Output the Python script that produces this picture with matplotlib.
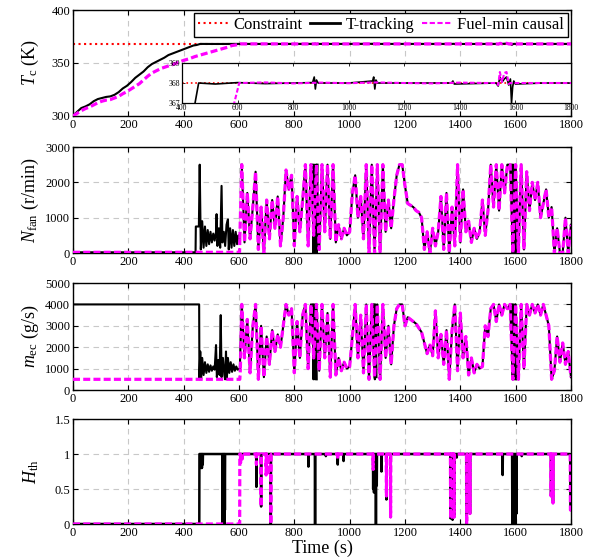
import numpy as np
import matplotlib
matplotlib.use("Agg")
import matplotlib.pyplot as plt
from matplotlib.lines import Line2D
from matplotlib.ticker import FuncFormatter

plt.rcParams['font.family'] = ['Liberation Serif', 'DejaVu Serif']
plt.rcParams['mathtext.fontset'] = 'custom'
plt.rcParams['mathtext.rm'] = 'Liberation Serif'
plt.rcParams['mathtext.it'] = 'Liberation Serif:italic'

# ---------------- data ----------------
constraint_T = 368

# Tc, T-tracking (black)
tc_blk_t = [0, 15, 30, 45, 60, 75, 90, 105, 120, 135, 150, 165, 180, 195, 210, 225, 240, 255, 270, 285,
            300, 315, 330, 345, 360, 375, 390, 405, 420, 435, 447, 460,
            520, 600, 700, 800, 870, 876, 880, 884, 890, 1000, 1086, 1090, 1094, 1098, 1104, 1200, 1370,
            1375, 1380, 1530, 1538, 1544, 1552, 1560, 1568, 1576, 1582, 1586, 1590, 1594, 1600, 1700, 1800]
tc_blk_v = [300, 304, 307.5, 309, 311, 314, 316, 317, 318, 318.5, 320, 322.5, 326, 328.5, 332, 336, 339, 342, 346, 349,
            351, 353, 355, 357.5, 359, 360.5, 362, 363.5, 365, 366.5, 367, 368,
            367.95, 368.02, 367.97, 368.0, 368.02, 368.3, 367.7, 368.15, 368.0, 368.0, 368.1, 368.3, 367.7, 368.15,
            368.0, 368.0, 368.0,
            368.1, 367.95, 368.0, 367.85, 368.3, 368.05, 368.2, 368.3, 367.9, 368.2, 367.0, 367.8, 368.1, 367.95,
            368.0, 368.0]

# Tc, fuel-min causal (magenta)
tc_mag_t = [0, 15, 30, 45, 60, 75, 90, 105, 120, 135, 150, 165, 180, 195, 210, 225, 240, 255, 270, 285,
            300, 320, 340, 360, 380, 400, 420, 440, 460, 480, 500, 520, 540, 560, 575, 588, 606,
            700, 800, 900, 1000, 1100, 1200, 1300, 1400, 1500, 1530, 1538, 1544, 1552, 1560, 1568, 1576,
            1582, 1590, 1700, 1800]
tc_mag_v = [300, 302.5, 305, 307, 308.5, 310.5, 312.5, 314, 315, 315.5, 317, 318.5, 321, 323, 325.5, 328, 330.5, 334, 337.5, 340.5,
            342.5, 345, 346.8, 348.5, 350.5, 352.5, 354, 356, 357.5, 359, 360.5, 362, 363.5, 365, 366.5, 367, 368,
            368.03, 367.98, 368.02, 367.99, 368.03, 368.0, 367.98, 368.02, 368.0, 368.0, 367.9, 368.55, 368.05,
            368.5, 368.55, 367.95, 368.0, 368.0, 368.0, 368.0]

# N_fan
nfan_blk_early_t = [0, 443, 444, 455, 458, 462, 467, 472, 477, 482, 487, 492, 497, 502, 507, 512, 517, 519, 522,
                    527, 532, 537, 540, 545, 550, 555, 560, 563, 568, 573, 578, 583, 588, 593, 598, 603]
nfan_blk_early_v = [20, 20, 750, 750, 2500, 100, 900, 150, 750, 200, 650, 250, 600, 300, 550, 350, 600, 1100, 200,
                    700, 150, 1900, 300, 600, 200, 800, 950, 100, 700, 150, 650, 200, 600, 250, 500, 400]
nfan_mag_early_t = [0, 602, 603]
nfan_mag_early_v = [20, 20, 400]
nfan_late = [2500, 300, 1700, 400, 1300, 2300, 100, 1300, 0, 1500, 400, 1500, 700, 1600, 200, 1000, 2350, 1800,
             2200, 200, 1600, 600, 1500, 2500, 200, 2500, 500, 2500, 100, 2500, 600, 2500, 400, 2500, 300, 800,
             400, 700, 500, 600, 1700, 2200, 1000, 1600, 400, 2500, 0, 2500, 0, 2500, 0, 2500, 600, 1500, 700,
             1500, 2200, 2500, 2500, 1900, 1400, 1350, 1300, 1200, 1150, 1000, 100, 600, 0, 700, 200, 600, 1600,
             100, 1700, 0, 1300, 200, 2500, 300, 1800, 600, 900, 300, 700, 400, 600, 1500, 500, 1200, 2500, 1300,
             2500, 1200, 2500, 1700, 2500, 2500, 0, 2500, 0, 2500, 100, 2300, 1200, 2000, 1500, 2000, 1000, 1400,
             1800, 1000, 1300, 0, 700, 0, 0, 1000, 0, 800]
# black-only bands in N_fan (two separate bursts)
nfan_blkx1_t = [866, 869, 872, 875, 878, 881, 884]
nfan_blkx1_v = [2500, 0, 2500, 0, 2500, 0, 2500]
nfan_blkx2_t = [1586, 1589, 1592, 1595, 1598, 1601]
nfan_blkx2_v = [2500, 0, 2500, 0, 2500, 0]

# m_ec
mec_blk_early_t = [0, 456, 457, 460, 463, 467, 472, 477, 482, 487, 492, 497, 502, 507, 512, 517, 520, 525, 530, 534,
                   537, 542, 547, 550, 553, 556, 560, 565, 570, 575, 580, 585, 590, 595, 603]
mec_blk_early_v = [4000, 4000, 500, 1800, 500, 1500, 700, 1300, 800, 1200, 850, 1150, 900, 1100, 950, 2100, 600, 1400,
                   700, 3500, 600, 1500, 700, 500, 1800, 500, 1500, 800, 1300, 850, 1200, 900, 1100, 950, 1000]
mec_mag_early_t = [0, 603, 605]
mec_mag_early_v = [500, 500, 1000]
mec_late = [4000, 1500, 3300, 800, 3000, 4000, 500, 3000, 600, 2500, 1200, 2800, 1800, 2600, 2000, 3000, 4000, 3500,
            3800, 800, 3200, 1500, 3500, 4000, 1000, 4000, 1500, 4000, 900, 4000, 1500, 3600, 600, 4000, 700, 1500,
            900, 1300, 1000, 1100, 2500, 4000, 1500, 3500, 800, 4000, 500, 4000, 600, 4000, 500, 4000, 1500, 3000,
            1200, 3000, 3800, 4000, 4000, 3000, 3400, 3300, 3200, 3100, 2900, 2700, 2200, 1700, 2100, 1600, 3700,
            1500, 2600, 1200, 2800, 500, 2800, 4000, 900, 3600, 1500, 2500, 700, 1500, 800, 1200, 1000, 1100, 3000,
            2500, 3800, 4000, 3200, 4000, 3500, 4000, 3800, 4000, 500, 4000, 500, 4000, 1000, 4000, 3500, 4000,
            3600, 4000, 3500, 4000, 3500, 3000, 500, 900, 2500, 1300, 2200, 1200, 1800, 600]
mec_blkx1_t = [866, 869, 872, 875, 878, 881]
mec_blkx1_v = [4000, 500, 4000, 500, 4000, 500]
mec_blkx2_t = [1088, 1091, 1094, 1097]
mec_blkx2_v = [4000, 500, 4000, 600]
mec_blkx3_t = [1586, 1589, 1592, 1595, 1598, 1601]
mec_blkx3_v = [4000, 500, 4000, 500, 4000, 500]

# H_th
h_blk_on = 457
h_blk_dip_t = [463, 466, 469, 541, 543, 545, 547, 549, 663, 680, 715, 851, 875, 914, 957, 978, 1085, 1088, 1092,
               1095, 1098, 1115, 1133, 1148, 1365, 1372, 1378, 1387, 1423, 1435, 1553, 1588, 1591, 1594, 1597,
               1600, 1603, 1622, 1728, 1735, 1798]
h_blk_dip_v = [0.8, 0.8, 0.85, 0, 0, 0, 0, 0.2, 0.53, 0.25, 0, 0.82, 0, 0.97, 0.85, 0.9, 0.5, 0.45, 0.5,
               0, 0.55, 0.75, 0.35, 0.1, 0.08, 0.06, 0.1, 0.95, 0, 0.15, 0.7, 0, 0, 0, 0,
               0, 0.15, 0.97, 0.4, 0.3, 0.2]
h_mag_on = 603
h_mag_dip_t = [606, 612, 663, 680, 698, 705, 715, 957, 1085, 1133, 1148, 1365, 1372, 1378, 1423, 1435, 1728, 1735, 1798]
h_mag_dip_v = [0.88, 0.93, 0.85, 0.25, 0.7, 0.7, 0.0, 0.93, 0.78, 0.4, 0.1, 0.08, 0.06, 0.1, 0.0, 0.15, 0.4, 0.3, 0.2]

# ---------------- helpers ----------------
late_t = np.arange(610, 1801, 10)


def h_series(t_on, dip_t, dip_v):
    t = [0, t_on - 0.5, t_on]
    v = [0, 0, 1]
    for dt, dv in zip(dip_t, dip_v):
        t += [dt - 0.8, dt, dt + 0.8]
        v += [1, dv, 1]
    if t[-2] > 1790:
        t[-1], v[-1] = 1800, v[-2]
    else:
        t.append(1800)
        v.append(1)
    return t, v


BLK = dict(color='black', lw=1.5, zorder=3)
MAG = dict(color=(1, 0, 1), lw=2.3, ls=(0, (2.2, 1.0)), zorder=4)

fig = plt.figure(figsize=(5.92, 5.59), dpi=100)
L, W = 0.1233, 0.8412
pos = [(0.7925, 0.1896), (0.5474, 0.1896), (0.3023, 0.1914), (0.0626, 0.1878)]
axs = [fig.add_axes([L, b, W, h]) for b, h in pos]


def style(ax, ylim, yticks):
    ax.set_xlim(0, 1800)
    ax.set_xticks(np.arange(0, 1801, 200))
    ax.set_ylim(*ylim)
    ax.set_yticks(yticks)
    ax.tick_params(direction='in', top=True, right=True, length=3.5, width=0.8, labelsize=9, pad=2)
    ax.grid(True, ls=(0, (5, 4)), color='#c8c8c8', lw=0.8)
    ax.set_axisbelow(True)
    for s in ax.spines.values():
        s.set_linewidth(1.0)
    ax.yaxis.set_major_formatter(FuncFormatter(lambda x, p: '%g' % x))


# Panel 1
ax = axs[0]
style(ax, (300, 400), [300, 350, 400])
ax.axhline(constraint_T, color='red', ls=':', lw=1.5, zorder=2)
ax.plot(tc_blk_t, tc_blk_v, **BLK)
ax.plot(tc_mag_t, tc_mag_v, **MAG)
ax.set_ylabel(r'$T_{\rm c}$ (K)', fontsize=13)
handles = [Line2D([], [], color='red', ls=':', lw=1.5),
           Line2D([], [], color='black', lw=2.0),
           Line2D([], [], color=(1, 0, 1), lw=1.5, ls=(0, (2.5, 1.2)))]
leg = ax.legend(handles, ['Constraint', 'T-tracking', 'Fuel-min causal'], ncol=3, loc='upper right',
                fontsize=12, frameon=True, fancybox=False, edgecolor='black', framealpha=1,
                handlelength=1.8, handletextpad=0.3, columnspacing=0.5, borderpad=0.25,
                borderaxespad=0.15)
leg.get_frame().set_linewidth(1.0)
leg.set_zorder(10)

# inset
ins = fig.add_axes([0.3074, 0.8157, 0.6571, 0.0716])
ins.set_xlim(400, 1800)
ins.set_ylim(367, 369)
ins.set_xticks(np.arange(400, 1801, 200))
ins.set_yticks([367, 368, 369])
ins.tick_params(direction='in', top=True, right=True, length=2.5, width=0.6, labelsize=5.5, pad=1)
ins.axhline(constraint_T, color='red', ls=':', lw=1.2, zorder=2)
ins.plot(tc_blk_t, tc_blk_v, color='black', lw=1.2, zorder=3)
ins.plot(tc_mag_t, tc_mag_v, color=(1, 0, 1), lw=1.5, ls=(0, (2.2, 1.1)), zorder=4)
for s in ins.spines.values():
    s.set_linewidth(0.9)
ins.set_zorder(5)

# Panel 2
ax = axs[1]
style(ax, (0, 3000), [0, 1000, 2000, 3000])
ax.plot(nfan_blk_early_t, nfan_blk_early_v, **BLK)
ax.plot(late_t, nfan_late, **BLK)
ax.plot(nfan_blkx1_t, nfan_blkx1_v, **BLK)
ax.plot(nfan_blkx2_t, nfan_blkx2_v, **BLK)
ax.plot(nfan_mag_early_t, nfan_mag_early_v, **MAG)
ax.plot(np.r_[603, late_t], np.r_[400, nfan_late], **MAG)
ax.set_ylabel(r'$N_{\rm fan}$ (r/min)', fontsize=13)

# Panel 3
ax = axs[2]
style(ax, (0, 5000), [0, 1000, 2000, 3000, 4000, 5000])
ax.plot(mec_blk_early_t, mec_blk_early_v, **BLK)
ax.plot(np.r_[603, late_t], np.r_[1000, mec_late], **BLK)
ax.plot(mec_blkx1_t, mec_blkx1_v, **BLK)
ax.plot(mec_blkx2_t, mec_blkx2_v, **BLK)
ax.plot(mec_blkx3_t, mec_blkx3_v, **BLK)
ax.plot(mec_mag_early_t, mec_mag_early_v, **MAG)
ax.plot(np.r_[605, late_t], np.r_[1000, mec_late], **MAG)
ax.set_ylabel(r'$m_{\rm ec}$ (g/s)', fontsize=13)

# Panel 4
ax = axs[3]
style(ax, (0, 1.5), [0, 0.5, 1, 1.5])
tb, vb = h_series(h_blk_on, h_blk_dip_t, h_blk_dip_v)
tm, vm = h_series(h_mag_on, h_mag_dip_t, h_mag_dip_v)
ax.plot(tb, vb, color='black', lw=1.8, zorder=3)
ax.plot(tm, vm, **MAG)
ax.set_ylabel(r'$H_{\rm th}$', fontsize=13)
ax.set_xlabel('Time (s)', fontsize=13, labelpad=1)

for a in axs:
    a.yaxis.set_label_coords(-0.065, 0.5)

fig.savefig('out.png', dpi=100)
